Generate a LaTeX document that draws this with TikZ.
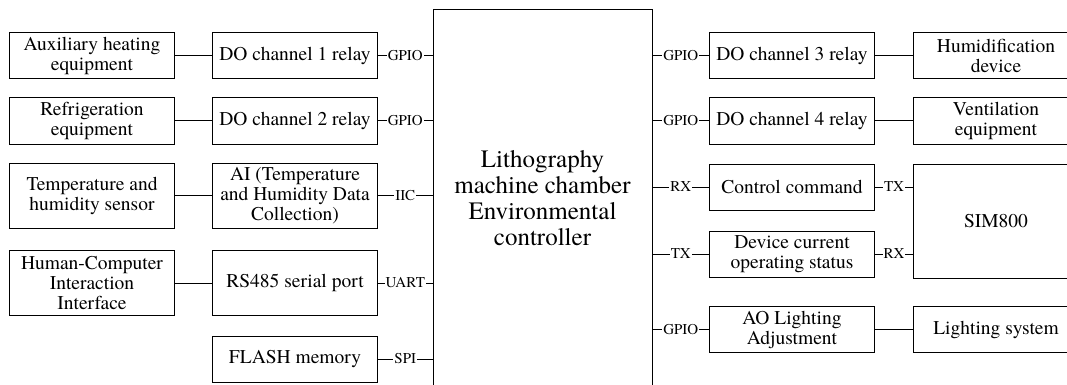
\documentclass[tikz,border=0pt]{standalone}
\usepackage{fontspec}
\setmainfont{TeX Gyre Termes}
\usetikzlibrary{positioning}

\begin{document}
\begin{tikzpicture}[x=1pt,y=-1pt,
  rbox/.style={draw,line width=1pt,minimum width=165pt,minimum height=46pt,inner sep=1pt,
    font=\fontsize{19.5}{20}\selectfont,align=center},
  tall/.style={minimum height=65pt},
  lbl/.style={fill=white,inner sep=1pt,font=\fontsize{15}{15}\selectfont},
  wire/.style={line width=1pt}
]
  \useasboundingbox (0,0) rectangle (1067,385);
  \clip (0,0) rectangle (1067,385);
  % Environmental controller
  \node[rbox,minimum width=219pt,minimum height=376pt,font=\fontsize{25}{26}\selectfont] (ctrl) at (542.5,198) {Lithography\\machine chamber\\Environmental\\controller};

  % left side
  \node[rbox] (heat) at (92,55.5) {Auxiliary heating\\equipment};
  \node[rbox] (do1) at (295,55.5) {DO channel 1 relay};
  \node[rbox] (cool) at (92,121) {Refrigeration\\equipment};
  \node[rbox] (do2) at (295,121) {DO channel 2 relay};
  \node[rbox,tall] (sensor) at (92,195.5) {Temperature and\\humidity sensor};
  \node[rbox,tall] (ai) at (295,195.5) {AI (Temperature\\and Humidity Data\\Collection)};
  \node[rbox,tall] (hci) at (92,283) {Human-Computer\\Interaction\\Interface};
  \node[rbox,tall] (rs485) at (295,283) {RS485 serial port};
  \node[rbox] (flash) at (295,359) {FLASH memory};

  \draw[wire] (heat) -- (do1);
  \draw[wire] (cool) -- (do2);
  \draw[wire] (sensor) -- (ai);
  \draw[wire] (hci) -- (rs485);
  \draw[wire] (do1) -- node[lbl]{GPIO} (do1 -| ctrl.west);
  \draw[wire] (do2) -- node[lbl]{GPIO} (do2 -| ctrl.west);
  \draw[wire] (ai) -- node[lbl]{IIC} (ai -| ctrl.west);
  \draw[wire] (rs485) -- node[lbl]{UART} (rs485 -| ctrl.west);
  \draw[wire] (flash) -- node[lbl]{SPI} (flash -| ctrl.west);

  % right side
  \node[rbox] (do3) at (792,55.5) {DO channel 3 relay};
  \node[rbox] (humid) at (996,55.5) {Humidification\\device};
  \node[rbox] (do4) at (792,121) {DO channel 4 relay};
  \node[rbox] (vent) at (996,121) {Ventilation\\equipment};
  \node[rbox] (cmd) at (792,187) {Control command};
  \node[rbox] (status) at (792,254) {Device current\\operating status};
  \node[rbox,minimum height=114pt] (sim) at (996,221) {SIM800};
  \node[rbox] (aoout) at (792,329.5) {AO Lighting\\Adjustment};
  \node[rbox] (light) at (996,329.5) {Lighting system};

  \draw[wire] (ctrl.east |- do3) -- node[lbl]{GPIO} (do3);
  \draw[wire] (ctrl.east |- do4) -- node[lbl]{GPIO} (do4);
  \draw[wire] (ctrl.east |- cmd) -- node[lbl]{RX} (cmd);
  \draw[wire] (ctrl.east |- status) -- node[lbl]{TX} (status);
  \draw[wire] (ctrl.east |- aoout) -- node[lbl]{GPIO} (aoout);
  \draw[wire] (do3) -- (humid);
  \draw[wire] (do4) -- (vent);
  \draw[wire] (cmd) -- node[lbl]{TX} (cmd -| sim.west);
  \draw[wire] (status) -- node[lbl]{RX} (status -| sim.west);
  \draw[wire] (aoout) -- (light);
\end{tikzpicture}
\end{document}
